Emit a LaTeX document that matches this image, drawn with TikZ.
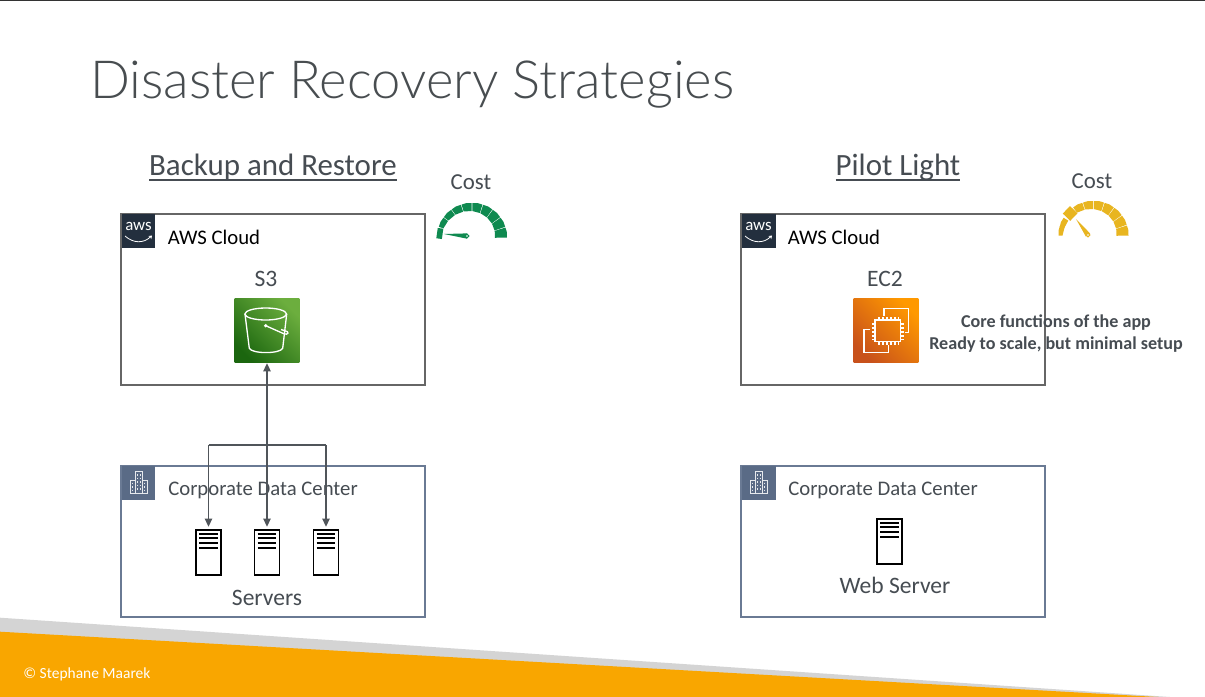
\documentclass[tikz,border=0pt]{standalone}
\usepackage{fontspec}
\setmainfont{Carlito}
\newfontfamily\titlefont{Lato Light}
\usetikzlibrary{arrows.meta,calc}
\definecolor{slidetext}{HTML}{464C52}
\definecolor{titlegray}{HTML}{484D50}
\definecolor{awsnavy}{HTML}{232F3E}
\definecolor{dcblue}{HTML}{5A6B86}
\definecolor{dcline}{HTML}{6A7A94}
\definecolor{cloudline}{HTML}{666666}
\definecolor{connline}{HTML}{50555A}
\definecolor{footorange}{HTML}{F9A600}
\definecolor{footgray}{HTML}{D4D4D4}
\definecolor{costgreen}{HTML}{0F8A50}
\definecolor{costyellow}{HTML}{E8B520}
\definecolor{s3dark}{HTML}{1B660F}
\definecolor{s3light}{HTML}{6CAE3E}
\definecolor{ec2dark}{HTML}{C8511B}
\definecolor{ec2light}{HTML}{FF9900}
\tikzset{
    label/.style={inner sep=0pt, text=slidetext, font=\fontsize{11.8}{14}\selectfont},
    biglabel/.style={inner sep=0pt, text=slidetext, font=\fontsize{13.4}{16}\selectfont},
    heading/.style={inner sep=0pt, anchor=base, text=slidetext, font=\fontsize{17.6}{22}\selectfont},
    costlabel/.style={inner sep=0pt, text=slidetext, font=\fontsize{13}{16}\selectfont},
    cloudbox/.style={draw=cloudline, line width=0.75pt, minimum width=6.08cm, minimum height=3.42cm},
    dcbox/.style={draw=dcline, line width=0.7pt, minimum width=6.08cm, minimum height=3.02cm},
    tagbox/.style={inner sep=0pt, minimum size=0.68cm},
    server/.style={draw=black, line width=1pt, fill=white, inner sep=0pt, minimum width=0.5cm, minimum height=0.9cm},
    iconbox/.style={inner sep=0pt, minimum size=1.3cm},
    conn/.style={draw=connline, line width=0.6pt},
    tip/.style={-{Triangle[length=0.16cm,width=0.15cm]}}
}
% underlined heading with a heavier rule
\newcommand{\headtext}[1]{\setbox0\hbox{#1}\rlap{\rule[-3.2pt]{\wd0}{1.1pt}}\box0}
% server front with its four bars
\newcommand{\serverbars}[1]{
    \foreach \d in {0.1,0.18,0.28,0.38} {
        \draw[black, line width=0.8pt] ([xshift=0.08cm,yshift=-\d cm]#1.north west) -- ([xshift=-0.08cm,yshift=-\d cm]#1.north east);
    }
}
% aws tag: name of tag node
\newcommand{\awstag}[2]{
    \node[tagbox, fill=awsnavy] (#2) at #1 {};
    \node[inner sep=0pt, text=white, font=\fontsize{9.6}{10}\selectfont] (#2text) at ([yshift=0.1cm]#2.center) {aws};
    \draw[white, line width=0.45pt, -{Stealth[length=1.8pt,width=2.4pt]}] ([xshift=-0.27cm,yshift=-0.1cm]#2.center) .. controls ([xshift=-0.1cm,yshift=-0.25cm]#2.center) and ([xshift=0.1cm,yshift=-0.25cm]#2.center) .. ([xshift=0.27cm,yshift=-0.09cm]#2.center);
}
% building tag
\newcommand{\dctag}[2]{
    \node[tagbox, fill=dcblue] (#2) at #1 {};
    \begin{scope}[shift={(#2.center)}]
        \draw[white!85!dcblue, line width=0.4pt] (-8.6,10.5) rectangle (8.6,-3) (-2.2,10.5) -- (-2.2,-3);
        \draw[white!85!dcblue, line width=0.4pt, fill=dcblue] (-3.4,10.5) rectangle (3.8,-11.5);
        \foreach \x in {-1,1.5} \draw[white!85!dcblue, line width=0.5pt, dash pattern=on 1pt off 1pt] (\x,-9) -- (\x,8);
        \foreach \x in {-6,6} \draw[white!85!dcblue, line width=0.5pt, dash pattern=on 1pt off 1pt] (\x,-0.5) -- (\x,8);
    \end{scope}
}
% gauge: centre, colour, start angles, block angle, block half depth, hub, needle tip
\newcommand{\costgauge}[7]{
    \begin{scope}[shift={#1},yscale=-1]
        \foreach \a in {#3} {
            \pgfmathsetmacro\ra{31-8*(180-\a)/180}
            \pgfmathsetmacro\rb{31-8*(162-\a)/180}
            \fill[#2] (\a+0.6:35) -- (\a+9:35.4) -- (\a+17.4:35) -- (\a+17.4:\rb) -- (\a+0.6:\ra) -- cycle;
        }
        \begin{scope}[rotate=-#4]
            \fill[#2] (32.5-#5,-5.2) rectangle (32.5+#5,5.2);
        \end{scope}
        \coordinate (hub) at #6;
        \coordinate (needle) at #7;
        \fill[#2] (needle) -- ($(hub)!1.5pt!90:(needle)$) -- ($(hub)!1.5pt!-90:(needle)$) -- cycle;
        \draw[#2, fill=white, line width=0.6pt] (hub) circle (1.8);
    \end{scope}
}

\begin{document}
\begin{tikzpicture}[x=0.02cm, y=-0.02cm]
    \useasboundingbox (0,0) rectangle (1205,697);
    \fill[white] (0,0) rectangle (1205,697);
    \draw[black!80, line width=0.6pt] (0,0.5) -- (1205,0.5);
    % footer
    \fill[footgray] (0,617.7) -- (1170,697) -- (0,697) -- cycle;
    \fill[footorange] (0,631.7) -- (1158,697) -- (0,697) -- cycle;
    \node[inner sep=0pt, text=white, font=\fontsize{8.8}{10}\selectfont, anchor=west] (copyright) at (23,674) {© Stephane Maarek};
    % title
    \node[inner sep=0pt, anchor=base west, text=titlegray, font=\titlefont\fontsize{29.9}{36}\selectfont] (title) at (90,98) {Disaster Recovery Strategies};

    % backup and restore
    \node[heading] (backuphead) at (273,175.5) {\headtext{Backup and Restore}};
    \node[cloudbox] (cloudL) at (273,299.5) {};
    \awstag{(138.5,231)}{awsL}
    \node[label, text=black] (cloudLtext) at (214,237) {AWS Cloud};
    \node[biglabel] (s3text) at (266,279) {S3};
    \node[iconbox, left color=s3light, right color=s3dark, shading angle=-45] (s3) at (267,330.5) {};
    \begin{scope}[shift={(s3.center)}, white, line width=0.75pt]
        \draw (-1.3,-16.5) ellipse (20.8 and 6);
        \draw (-22,-16.5) -- (-17.7,17.8) .. controls (-15,23.5) and (13,23.5) .. (15.7,17.8) -- (19.7,-16.5);
        \fill (-1.3,-4.8) circle (1.8);
        \draw (-1.3,-4.8) -- (17,3.3) .. controls (21,5) and (23,1) .. (18,0.3) -- (14,-1);
    \end{scope}

    \node[costlabel] (costL) at (471,182) {Cost};
    \costgauge{(472,238)}{costgreen}{0,18,...,144}{172}{2.8}{(-5,2)}{(-28,4)}

    \node[dcbox] (dcL) at (273,541.5) {};
    \dctag{(138.5,483)}{dctagL}
    \node[label] (dcLtext) at (263,490) {Corporate Data Center};
    \node[server] (srv1) at (208.5,552.5) {};
    \node[server] (srv2) at (267,552.5) {};
    \node[server] (srv3) at (326,552.5) {};
    \foreach \s in {srv1,srv2,srv3} {
        \serverbars{\s}
    }
    \node[biglabel] (srvtext) at (267,598) {Servers};
    \coordinate (busL) at (208.5,445);
    \coordinate (busR) at (326,445);
    \draw[conn] (busL) -- (busR);
    \draw[conn, tip, shorten >=0.05cm] (busL) -- (srv1.north);
    \draw[conn, tip, shorten >=0.05cm] (busR) -- (srv3.north);
    \draw[conn, {Triangle[length=0.16cm,width=0.15cm]}-{Triangle[length=0.16cm,width=0.15cm]}, shorten >=0.05cm] (s3.south) -- (srv2.north);

    % pilot light
    \node[heading] (pilothead) at (898,175.5) {\headtext{Pilot Light}};
    \node[cloudbox] (cloudR) at (893,299.5) {};
    \awstag{(758.5,231)}{awsR}
    \node[label, text=black] (cloudRtext) at (834,237) {AWS Cloud};
    \node[biglabel] (ec2text) at (885,279) {EC2};
    \node[iconbox, left color=ec2light, right color=ec2dark, shading angle=-45] (ec2) at (886,330.5) {};
    \begin{scope}[shift={(ec2.center)}, white, line width=0.75pt]
        \draw (-2,-15) -- (-2,-22.2) -- (22.3,-22.2) -- (22.3,1.8) -- (19,1.8);
        \draw (-16,-1.2) -- (-22,-1.2) -- (-22,22.2) -- (2.3,22.2) -- (2.3,14);
        \draw (-11,-10.5) rectangle (14.7,11.2);
        \foreach \x in {-7,-3,1,5,9,12.5} {
            \draw (\x,-10.5) -- (\x,-14);
            \draw (\x,11.2) -- (\x,14.7);
        }
        \foreach \y in {-6.5,-2.5,1.5,5.5,9} {
            \draw (-11,\y) -- (-14.5,\y);
            \draw (14.7,\y) -- (18.2,\y);
        }
    \end{scope}
    \node[inner sep=0pt, text=slidetext, align=center, font=\fontsize{10.3}{12.5}\selectfont\bfseries] (ec2note) at (1056,333.5) {Core functions of the app\\Ready to scale, but minimal setup};

    \node[costlabel] (costR) at (1092,181) {Cost};
    \costgauge{(1093.5,236)}{costyellow}{0,18,...,108,148,162}{136}{5.2}{(-5.5,1)}{(-17.5,17)}

    \node[dcbox] (dcR) at (893,541.5) {};
    \dctag{(758.5,483)}{dctagR}
    \node[label] (dcRtext) at (883,490) {Corporate Data Center};
    \node[server] (srv4) at (889.7,541.5) {};
    \serverbars{srv4}
    \node[biglabel] (webtext) at (895,585) {Web Server};
\end{tikzpicture}
\end{document}
